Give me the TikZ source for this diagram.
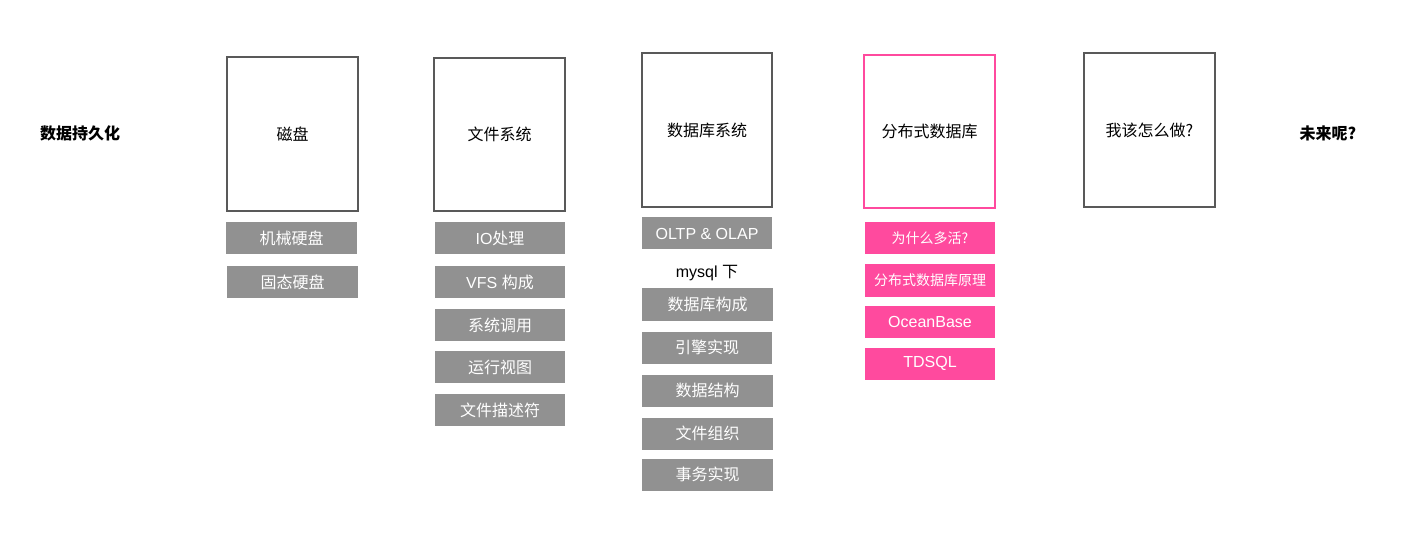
\documentclass[tikz,border=0pt]{standalone}
\usepackage{fontspec}
\setmainfont{Liberation Sans}
\newfontfamily\cjk{Noto Sans CJK SC}
\definecolor{boxgray}{HTML}{595959}
\definecolor{itemgray}{HTML}{919191}
\definecolor{hotpink}{HTML}{FF4A9E}
\tikzset{
  topic/.style={draw=boxgray, line width=1.5pt, minimum width=98pt, minimum height=115pt, inner sep=0pt, font=\fontsize{12}{14}\selectfont},
  hottopic/.style={topic, draw=hotpink},
  item/.style={fill=itemgray, text=white, minimum width=98pt, minimum height=24pt, inner sep=0pt, font=\fontsize{12}{14}\selectfont},
  hotitem/.style={item, fill=hotpink},
  title/.style={font=\fontsize{12}{14}\selectfont\bfseries}
}
\begin{document}
\begin{tikzpicture}[x=0.75pt, y=-0.75pt]
            \useasboundingbox (0,0) rectangle (1413,552);

            % Side titles
            \node[title] (persist) at (80,133) {\cjk 数据持久化};
            \node[title] (future) at (1328,133) {\cjk 未来呢?};

            % Disk column
            \node[topic] (disk) at (292.5,134) {\cjk 磁盘};
            \node[item] (hdd) at (291.5,238) {\cjk 机械硬盘};
            \node[item] (ssd) at (292.5,282) {\cjk 固态硬盘};

            % File system column
            \node[topic] (fs) at (499.5,134.5) {\cjk 文件系统};
            \node[item] (io) at (500,238) {IO{\cjk 处理}};
            \node[item] (vfs) at (500,282) {VFS {\cjk 构成}};
            \node[item] (syscall) at (500,325) {\cjk 系统调用};
            \node[item] (runview) at (500,367) {\cjk 运行视图};
            \node[item] (fd) at (500,410) {\cjk 文件描述符};

            % Database column
            \node[topic] (db) at (707,130) {\cjk 数据库系统};
            \node[item] (olap) at (707,233.5) {OLTP \& OLAP};
            \node[font=\fontsize{12}{14}\selectfont] (mysql) at (707,273) {mysql {\cjk 下}};
            \node[item] (dbparts) at (707.5,304.5) {\cjk 数据库构成};
            \node[item] (engine) at (707,347.5) {\cjk 引擎实现};
            \node[item] (struct) at (707.5,390.5) {\cjk 数据结构};
            \node[item] (files) at (707.5,433.5) {\cjk 文件组织};
            \node[item] (txn) at (707.5,474.5) {\cjk 事务实现};

            % Distributed database column
            \node[hottopic] (ddb) at (929.5,131.5) {\cjk 分布式数据库};
            \node[hotitem, font=\fontsize{10.5}{12}\selectfont] (active) at (930,238.5) {\cjk 为什么多活?};
            \node[hotitem, font=\fontsize{10.5}{12}\selectfont] (theory) at (930,280.5) {\cjk 分布式数据库原理};
            \node[hotitem] (ocean) at (930,321.5) {OceanBase};
            \node[hotitem] (tdsql) at (930,363.5) {TDSQL};

            % What to do
            \node[topic] (todo) at (1149.5,130) {\cjk 我该怎么做?};
        \end{tikzpicture}
\end{document}
